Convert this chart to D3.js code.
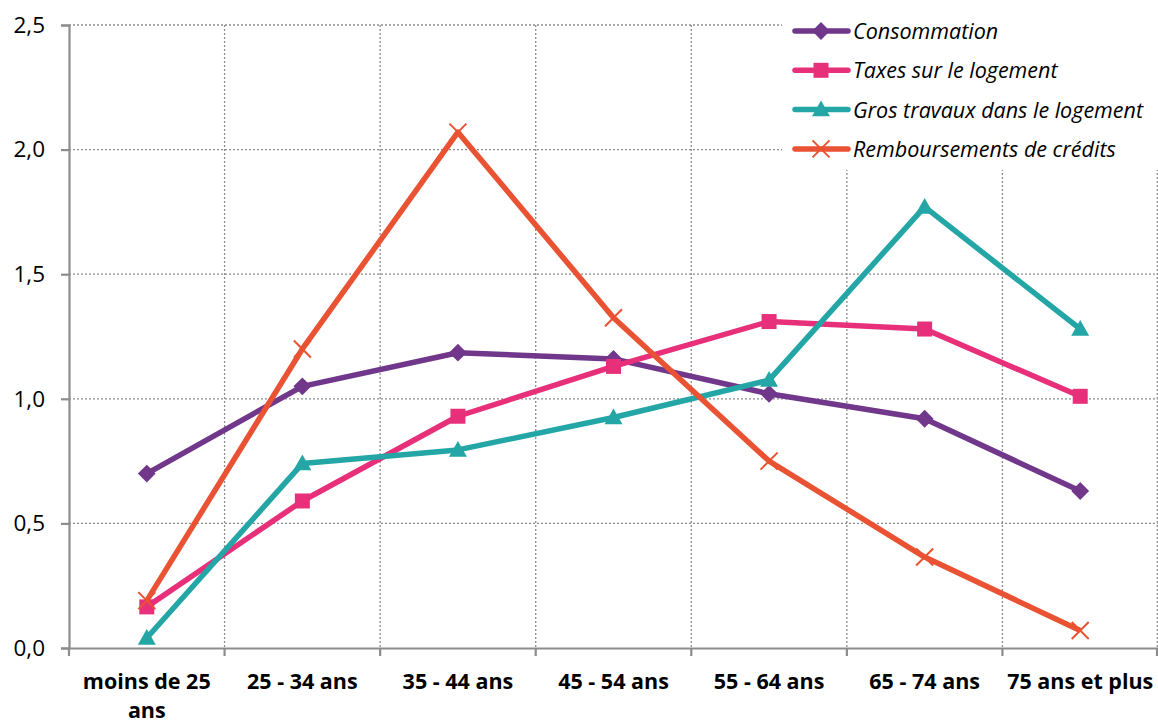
<!DOCTYPE html>
<html>
<head>
<meta charset="utf-8">
<script src="https://cdn.jsdelivr.net/npm/d3@7"></script>
<style>
  body { margin: 0; background: #fff; }
  svg { display: block; font-family: "Open Sans", "Noto Sans", sans-serif; }
</style>
</head>
<body>
<svg id="chart" width="1158" height="724"></svg>
<script>
// data
var categories = ["moins de 25 ans", "25 - 34 ans", "35 - 44 ans", "45 - 54 ans", "55 - 64 ans", "65 - 74 ans", "75 ans et plus"];
var consommation = [0.70, 1.05, 1.185, 1.16, 1.02, 0.92, 0.63];
var taxesLogement = [0.165, 0.59, 0.93, 1.13, 1.31, 1.28, 1.01];
var grosTravaux = [0.04, 0.74, 0.795, 0.925, 1.075, 1.77, 1.28];
var remboursements = [0.19, 1.20, 2.07, 1.325, 0.75, 0.365, 0.07];
var yTicks = [0, 0.5, 1, 1.5, 2, 2.5];

var series = [
    { name: "Consommation", values: consommation, color: "#70378B", marker: "diamond" },
    { name: "Taxes sur le logement", values: taxesLogement, color: "#E8307A", marker: "square" },
    { name: "Gros travaux dans le logement", values: grosTravaux, color: "#23A6A5", marker: "triangle" },
    { name: "Remboursements de crédits", values: remboursements, color: "#E95232", marker: "cross" }
];

(function() {
    var svg = d3.select("#chart");

    var plotLeft = 69, plotRight = 1158, plotTop = 25, plotBottom = 648;

    var x = d3.scaleBand()
        .domain(categories)
        .range([plotLeft, plotRight]);

    var y = d3.scaleLinear()
        .domain([0, 2.5])
        .range([plotBottom, plotTop]);

    var fmt = d => d3.format(".1f")(d).replace(".", ",");

    // horizontal grid (dotted)
    svg.append("g")
        .selectAll("line")
        .data(yTicks.filter(d => d > 0))
        .join("line")
            .attr("x1", plotLeft)
            .attr("x2", plotRight)
            .attr("y1", d => y(d))
            .attr("y2", d => y(d))
            .attr("stroke", "#8c8c8c")
            .attr("stroke-width", 1.3)
            .attr("stroke-dasharray", "2,2");

    // vertical grid (dotted) on category boundaries
    var boundaries = categories.slice(1).map(d => x(d)).concat([plotRight - 0.7]);
    svg.append("g")
        .selectAll("line")
        .data(boundaries)
        .join("line")
            .attr("x1", d => d)
            .attr("x2", d => d)
            .attr("y1", plotTop)
            .attr("y2", plotBottom)
            .attr("stroke", "#8c8c8c")
            .attr("stroke-width", 1.3)
            .attr("stroke-dasharray", "2,2");

    // y axis
    var yAxis = svg.append("g")
        .attr("transform", "translate(" + plotLeft + ",0)")
        .call(d3.axisLeft(y).tickValues(yTicks).tickFormat(fmt).tickSize(8).tickPadding(16))
        .attr("font-family", null)
        .attr("font-size", null);
    yAxis.select(".domain").attr("stroke", "#8c8c8c").attr("stroke-width", 2.2);
    yAxis.selectAll(".tick line").attr("stroke", "#8c8c8c").attr("stroke-width", 2.2);
    yAxis.selectAll(".tick text")
        .attr("fill", "#000")
        .style("font-size", "22.5px");

    // x axis
    var xAxis = svg.append("g")
        .attr("transform", "translate(0," + plotBottom + ")")
        .call(d3.axisBottom(x).tickSize(0).tickFormat(""))
        .attr("font-family", null)
        .attr("font-size", null);
    xAxis.selectAll(".tick").remove();
    xAxis.select(".domain").attr("stroke", "#8c8c8c").attr("stroke-width", 2.2);

    // x tick marks at category boundaries
    xAxis.append("g")
        .selectAll("line")
        .data(categories.map(d => x(d)).concat([plotRight - 1]))
        .join("line")
            .attr("x1", d => d)
            .attr("x2", d => d)
            .attr("y1", 0)
            .attr("y2", 8)
            .attr("stroke", "#8c8c8c")
            .attr("stroke-width", 2.2);

    // x labels (bold, wrapped like the original)
    var labelLines = { "moins de 25 ans": ["moins de 25", "ans"] };
    xAxis.append("g")
        .selectAll("text")
        .data(categories)
        .join("text")
            .attr("x", d => x(d) + x.bandwidth() / 2)
            .attr("y", 41)
            .attr("text-anchor", "middle")
            .attr("font-weight", "bold")
            .attr("font-size", "21.5px")
            .attr("fill", "#000")
            .each(function(d) {
                var lines = labelLines[d] || [d];
                d3.select(this).selectAll("tspan")
                    .data(lines)
                    .join("tspan")
                        .attr("x", x(d) + x.bandwidth() / 2)
                        .attr("dy", (l, i) => i === 0 ? 0 : 29)
                        .text(l => l);
            });

    // marker shapes
    function drawMarker(g, type, color, size) {
        if (type === "diamond") {
            g.append("path")
                .attr("d", d3.symbol(d3.symbolDiamond2, size * size * 0.9)())
                .attr("fill", color);
        } else if (type === "square") {
            g.append("rect")
                .attr("x", -size / 2).attr("y", -size / 2)
                .attr("width", size).attr("height", size)
                .attr("fill", color);
        } else if (type === "triangle") {
            g.append("path")
                .attr("d", "M0," + (-size * 0.6) + "L" + (size * 0.6) + "," + (size * 0.45) + "L" + (-size * 0.6) + "," + (size * 0.45) + "Z")
                .attr("fill", color);
        } else {
            var h = size / 2 + 1;
            g.append("path")
                .attr("d", "M" + -h + "," + -h + "L" + h + "," + h + "M" + h + "," + -h + "L" + -h + "," + h)
                .attr("stroke", color)
                .attr("stroke-width", 2);
        }
    }

    var line = d3.line()
        .x((d, i) => x(categories[i]) + x.bandwidth() / 2)
        .y(d => y(d));

    series.forEach(function(s) {
        var g = svg.append("g");
        g.append("path")
            .datum(s.values)
            .attr("d", line)
            .attr("fill", "none")
            .attr("stroke", s.color)
            .attr("stroke-width", 5.5)
            .attr("stroke-linejoin", "round");
        s.values.forEach(function(v, i) {
            var m = g.append("g")
                .attr("transform", "translate(" + [x(categories[i]) + x.bandwidth() / 2, y(v)] + ")");
            drawMarker(m, s.marker, s.color, 15);
        });
    });

    // legend
    var legend = svg.append("g").attr("transform", "translate(782,10)");
    legend.append("rect")
        .attr("width", 376)
        .attr("height", 160)
        .attr("fill", "#fff");

    series.forEach(function(s, i) {
        var row = legend.append("g")
            .attr("transform", "translate(0," + (21 + i * 39.3) + ")");
        row.append("line")
            .attr("x1", 13).attr("x2", 66)
            .attr("stroke", s.color)
            .attr("stroke-width", 5.5)
            .attr("stroke-linecap", "round");
        var m = row.append("g").attr("transform", "translate(39,0)");
        drawMarker(m, s.marker, s.color, 15);
        row.append("text")
            .attr("x", 71)
            .attr("y", 8)
            .attr("font-style", "italic")
            .attr("font-size", "21.5px")
            .attr("fill", "#000")
            .text(s.name);
    });
})();
</script>
</body>
</html>
